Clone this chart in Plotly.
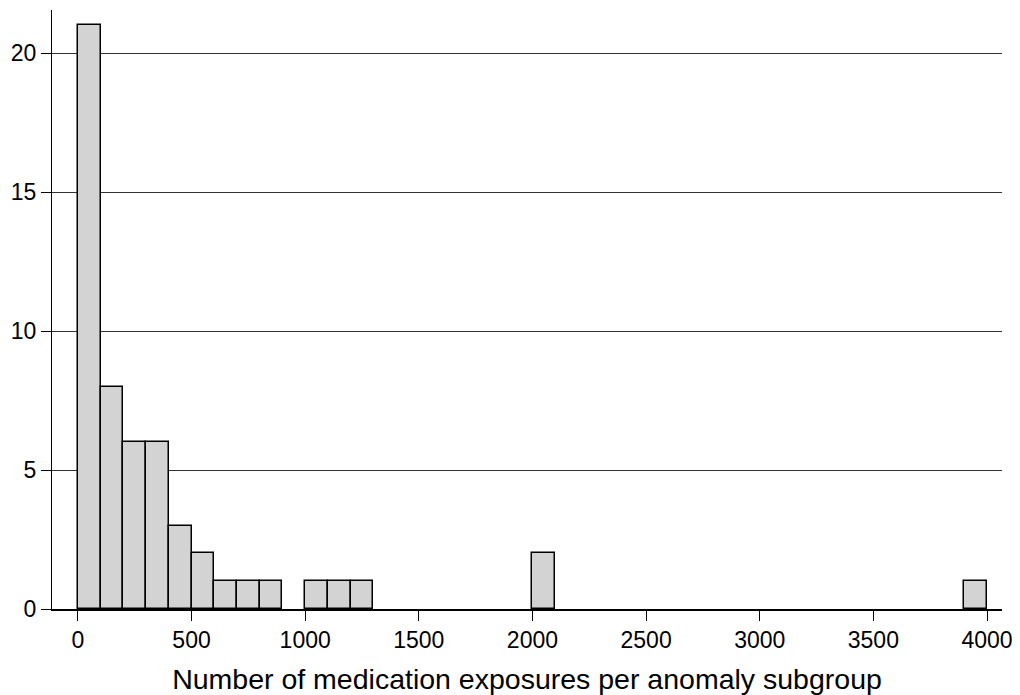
import plotly.graph_objects as go

# Histogram of exposures per anomaly subgroup (bin width 100)
bin_start = [0, 100, 200, 300, 400, 500, 600, 700, 800, 1000, 1100, 1200, 2000, 3900]
counts = [21, 8, 6, 6, 3, 2, 1, 1, 1, 1, 1, 1, 2, 1]
bin_width = 100

x_ticks = [0, 500, 1000, 1500, 2000, 2500, 3000, 3500, 4000]
y_ticks = [0, 5, 10, 15, 20]

fig = go.Figure(
    go.Bar(
        x=[s + bin_width / 2 for s in bin_start],
        y=counts,
        width=bin_width,
        marker=dict(color="#d3d3d3", line=dict(color="black", width=1.5)),
        hoverinfo="x+y",
    )
)

font = dict(family="Liberation Sans, Arial, sans-serif", color="black")

fig.update_layout(
    width=1020,
    height=695,
    margin=dict(l=52, r=18, t=10, b=86),
    paper_bgcolor="white",
    plot_bgcolor="white",
    showlegend=False,
    bargap=0,
    font=font,
    xaxis=dict(
        range=[-114, 4066],
        tickvals=x_ticks,
        ticks="outside",
        ticklen=10,
        tickcolor="black",
        tickwidth=1,
        tickfont=dict(size=23),
        showgrid=False,
        zeroline=False,
        showline=True,
        linecolor="black",
        linewidth=1.5,
        automargin=False,
        title=dict(text="Number of medication exposures per anomaly subgroup",
                   font=dict(size=28.5), standoff=18),
    ),
    yaxis=dict(
        range=[0, 21.55],
        tickvals=y_ticks,
        ticks="outside",
        ticklen=10,
        tickcolor="black",
        tickwidth=1,
        tickfont=dict(size=23),
        showgrid=True,
        gridcolor="#333333",
        gridwidth=1,
        zeroline=False,
        showline=True,
        linecolor="black",
        linewidth=1,
        automargin=False,
    ),
)

fig.write_html("out.html")
